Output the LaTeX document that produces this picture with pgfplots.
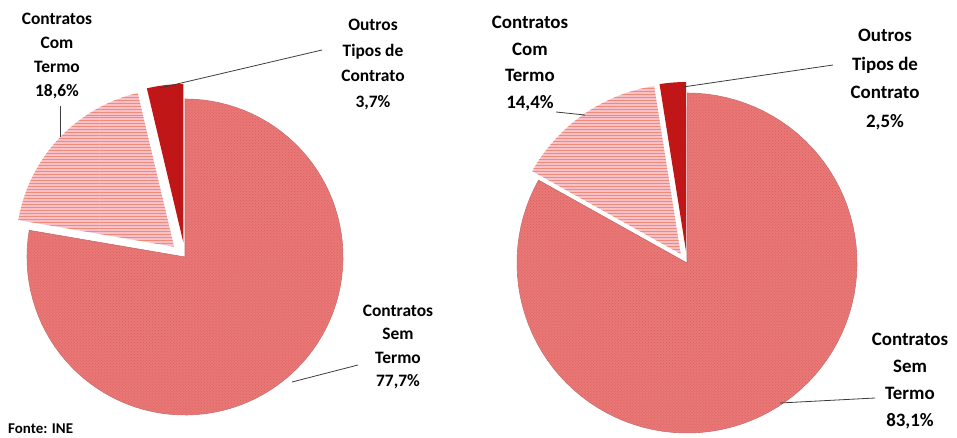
\documentclass[border=0pt]{standalone}
\usepackage{fontspec}
\setmainfont{Carlito}
\usepackage{pgfplots}
\pgfplotsset{compat=1.18}
\usetikzlibrary{patterns}

\definecolor{semtermo}{RGB}{234,120,118}
\definecolor{semedge}{RGB}{200,108,108}
\definecolor{semdot}{RGB}{212,96,96}
\definecolor{comfill}{RGB}{248,192,200}
\definecolor{comline}{RGB}{238,140,120}
\definecolor{outros}{RGB}{192,22,24}
\definecolor{leader}{RGB}{60,60,60}

% shares (%) -- left chart
\def\LsemV{77.7}
\def\LcomV{18.6}
\def\LoutV{3.7}
% shares (%) -- right chart
\def\RsemV{83.1}
\def\RcomV{14.4}
\def\RoutV{2.5}

% slice angles, counterclockwise from the top
\pgfmathsetmacro\LaB{90+3.6*\LoutV}
\pgfmathsetmacro\LaC{\LaB+3.6*\LcomV}
\pgfmathsetmacro\LaD{\LaC+3.6*\LsemV}
\pgfmathsetmacro\LoX{185+15*cos((90+\LaB)/2)}
\pgfmathsetmacro\LoY{181+15*sin((90+\LaB)/2)}
\pgfmathsetmacro\LcX{185+15*cos((\LaB+\LaC)/2)}
\pgfmathsetmacro\LcY{181+15*sin((\LaB+\LaC)/2)}

\pgfmathsetmacro\RaB{90+3.6*\RoutV}
\pgfmathsetmacro\RaC{\RaB+3.6*\RcomV}
\pgfmathsetmacro\RaD{\RaC+3.6*\RsemV}
\pgfmathsetmacro\RoX{687+11*cos((90+\RaB)/2)}
\pgfmathsetmacro\RoY{175+11*sin((90+\RaB)/2)}
\pgfmathsetmacro\RcX{687+11*cos((\RaB+\RaC)/2)}
\pgfmathsetmacro\RcY{175+11*sin((\RaB+\RaC)/2)}

% #1 style, #2 cx, #3 cy, #4 radius, #5 start angle, #6 end angle
\newcommand{\slice}[6]{%
  \addplot[#1, domain=#5:#6, samples=90, variable=\t]
    ({#2+#4*cos(t)}, {#3+#4*sin(t)}) -- (axis cs:#2,#3) -- cycle;
}

\begin{document}
\begin{tikzpicture}
\begin{axis}[
    scale only axis,
    width=957bp, height=438bp,
    xmin=0, xmax=957, ymin=0, ymax=438,
    hide axis, clip=false,
]
% left pie
\slice{fill=semtermo, draw=semedge, line width=0.6pt}{185}{181}{158}{\LaC}{\LaD}
\slice{draw=none, pattern=crosshatch dots, pattern color=semdot}{185}{181}{157}{\LaC}{\LaD}
\slice{fill=comfill, draw=none}{\LcX}{\LcY}{158}{\LaB}{\LaC}
\slice{draw=none, pattern=horizontal lines, pattern color=comline}{\LcX}{\LcY}{158}{\LaB}{\LaC}
\slice{fill=outros, draw=none}{\LoX}{\LoY}{158}{90}{\LaB}
% right pie
\slice{fill=semtermo, draw=semedge, line width=0.6pt}{687}{175}{170}{\RaC}{\RaD}
\slice{draw=none, pattern=crosshatch dots, pattern color=semdot}{687}{175}{169}{\RaC}{\RaD}
\slice{fill=comfill, draw=none}{\RcX}{\RcY}{170}{\RaB}{\RaC}
\slice{draw=none, pattern=horizontal lines, pattern color=comline}{\RcX}{\RcY}{170}{\RaB}{\RaC}
\slice{fill=outros, draw=none}{\RoX}{\RoY}{170}{90}{\RaB}

% leader lines
\draw[leader, line width=0.8pt] (axis cs:60,332) -- (axis cs:60,301);
\draw[leader, line width=0.8pt] (axis cs:322,388) -- (axis cs:160,350);
\draw[leader, line width=0.8pt] (axis cs:358,73) -- (axis cs:292,56);
\draw[leader, line width=0.8pt] (axis cs:556,326) -- (axis cs:585,323);
\draw[leader, line width=0.8pt] (axis cs:833,373) -- (axis cs:683,351);
\draw[leader, line width=0.8pt] (axis cs:875,40) -- (axis cs:780,35);

% labels
\begin{scope}[every node/.style={align=center, inner sep=0pt}]
\node[font=\fontsize{17.5}{24}\selectfont\bfseries] at (axis cs:57,382) {Contratos\\Com\\Termo\\18,6\%};
\node[font=\fontsize{17.5}{25.5}\selectfont\bfseries] at (axis cs:373,373.5) {Outros\\Tipos de\\Contrato\\3,7\%};
\node[font=\fontsize{17.5}{23.5}\selectfont\bfseries] at (axis cs:398,91) {Contratos\\Sem\\Termo\\77,7\%};
\node[font=\fontsize{19}{26.5}\selectfont\bfseries] at (axis cs:530,374.5) {Contratos\\Com\\Termo\\14,4\%};
\node[font=\fontsize{19}{28.5}\selectfont\bfseries] at (axis cs:885,358.5) {Outros\\Tipos de\\Contrato\\2,5\%};
\node[font=\fontsize{19}{27}\selectfont\bfseries] at (axis cs:910,57) {Contratos\\Sem\\Termo\\83,1\%};
\node[font=\fontsize{15}{18}\selectfont\bfseries, anchor=base west] at (axis cs:8,4) {Fonte: INE};
\end{scope}
\end{axis}
\pgfresetboundingbox
\path[use as bounding box] (current axis.south west) rectangle (current axis.north east);
\end{tikzpicture}
\end{document}
